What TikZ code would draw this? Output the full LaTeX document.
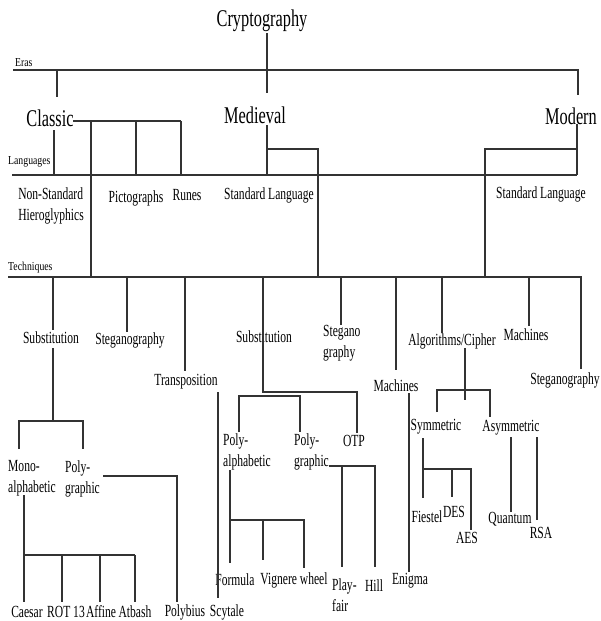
\documentclass[tikz,border=0pt]{standalone}
\usepackage{fontspec}
\setmainfont{Liberation Serif}
\newfontfamily\condfont[FakeStretch=0.68]{Liberation Serif}
\newfontfamily\tinyfam[FakeStretch=0.8]{Liberation Serif}
\newcommand\bigf{\condfont\fontsize{24}{28}\selectfont}
\newcommand\smallf{\condfont\fontsize{17}{21}\selectfont}
\newcommand\tinyf{\tinyfam\fontsize{12.2}{14}\selectfont}
\tikzset{
  big/.style={inner sep=0pt, font=\bigf},
  lbl/.style={inner sep=0pt, font=\smallf},
  lbll/.style={inner sep=0pt, font=\smallf, align=left, anchor=west},
  sect/.style={inner sep=0pt, font=\tinyf, anchor=west},
  ln/.style={line width=1.15pt, draw=black!80},
}
\begin{document}
\begin{tikzpicture}[x=1pt,y=-1pt]
\useasboundingbox (0,0) rectangle (601,621);
% --- top
\node[big] (crypto) at (262,21) {Cryptography};
\node[sect] (eras) at (15,63) {Eras};
\node[big] (classic) at (50,118) {Classic};
\node[big] (medieval) at (255,115) {Medieval};
\node[big] (modern) at (571,116) {Modern};
% --- languages
\node[sect] (languages) at (8,162) {Languages};
\node[lbl, align=left] (nonstd) at (51,206) {Non-Standard\\Hieroglyphics};
\node[lbl] (picto) at (136,198) {Pictographs};
\node[lbl] (runes) at (187,195) {Runes};
\node[lbl] (stdmed) at (269,195) {Standard Language};
\node[lbl] (stdmod) at (541,194) {Standard Language};
% --- techniques
\node[sect] (techniques) at (8,268) {Techniques};
\node[lbl] (subL) at (51,338) {Substitution};
\node[lbl] (stegL) at (130,340) {Steganography};
\node[lbl] (transp) at (186,382) {Transposition};
\node[lbl] (subM) at (264,337) {Substitution};
\node[lbll] (stegM) at (323,343) {Stegano\\graphy};
\node[lbl] (machM) at (396,386) {Machines};
\node[lbl] (algo) at (452,341) {Algorithms/Cipher};
\node[lbl] (machR) at (526,335) {Machines};
\node[lbl] (stegR) at (565,380) {Steganography};
% --- lower levels
\node[lbll] (mono) at (8,478) {Mono-\\alphabetic};
\node[lbll] (polyL) at (65,479) {Poly-\\graphic};
\node[lbll] (polyalpha) at (223,452) {Poly-\\alphabetic};
\node[lbll] (polygraph) at (294,452) {Poly-\\graphic};
\node[lbl] (otp) at (354,441) {OTP};
\node[lbl] (sym) at (436,427) {Symmetric};
\node[lbl] (asym) at (511,428) {Asymmetric};
\node[lbl] (formula) at (235,580) {Formula};
\node[lbl] (vignere) at (294,580) {Vignere wheel};
\node[lbll] (playfair) at (332,595) {Play-\\fair};
\node[lbl] (hill) at (374,586) {Hill};
\node[lbl] (enigma) at (410,581) {Enigma};
\node[lbl] (fiestel) at (427,517) {Fiestel};
\node[lbl] (des) at (454,512) {DES};
\node[lbl] (aes) at (467,538) {AES};
\node[lbl] (quantum) at (510,519) {Quantum};
\node[lbl] (rsa) at (541,533) {RSA};
\node[lbl] (caesar) at (27,612) {Caesar};
\node[lbl] (rot) at (66,612) {ROT 13};
\node[lbl] (affine) at (101,612) {Affine};
\node[lbl] (atbash) at (135,612) {Atbash};
\node[lbl] (polybius) at (185,612) {Polybius};
\node[lbl] (scytale) at (227,612) {Scytale};
% ================= connectors
% eras
\draw[ln] (267,33) -- (267,93);
\draw[ln] (13,70) -- (578,70) -- (578,95);
\draw[ln] (57,70) -- (57,97);
% classic
\draw[ln] (73,121) -- (181,121);
\draw[ln] (91,121) -- (91,277);
\draw[ln] (136,121) -- (136,175);
\draw[ln] (181,121) -- (181,175);
\draw[ln] (54,130) -- (54,175);
% languages line
\draw[ln] (12,175) -- (577,175);
% medieval
\draw[ln] (267,125) -- (267,175);
\draw[ln] (267,149) -- (318,149) -- (318,277);
% modern
\draw[ln] (577,124) -- (577,175);
\draw[ln] (577,149) -- (485,149) -- (485,277);
% techniques line
\draw[ln] (8,277) -- (582,277);
% left substitution
\draw[ln] (53,277) -- (53,330);
\draw[ln] (53,348) -- (53,421);
\draw[ln] (19,449) -- (19,421) -- (83,421) -- (83,449);
\draw[ln] (127,277) -- (127,332);
\draw[ln] (185,277) -- (185,371);
\draw[ln] (218,392) -- (218,598);
% middle substitution
\draw[ln] (263,277) -- (263,392) -- (357,392) -- (357,433);
\draw[ln] (239,432) -- (239,396) -- (300,396) -- (300,432);
\draw[ln] (341,277) -- (341,325);
\draw[ln] (396,277) -- (396,370);
\draw[ln] (409,393) -- (409,572);
% algorithms
\draw[ln] (442,277) -- (442,333);
\draw[ln] (465,348) -- (465,400);
\draw[ln] (437,412) -- (437,390) -- (490,390) -- (490,417);
\draw[ln] (529,277) -- (529,326);
\draw[ln] (581,277) -- (581,369);
% mono-alphabetic
\draw[ln] (24,495) -- (24,602);
\draw[ln] (24,555) -- (135,555);
\draw[ln] (62,555) -- (62,602);
\draw[ln] (100,555) -- (100,602);
\draw[ln] (135,555) -- (135,602);
% poly-graphic (left)
\draw[ln] (103,476) -- (177,476) -- (177,602);
% poly-alphabetic (middle)
\draw[ln] (230,470) -- (230,563);
\draw[ln] (230,520) -- (304,520) -- (304,568);
\draw[ln] (263,520) -- (263,560);
% poly-graphic (middle)
\draw[ln] (329,466) -- (375,466) -- (375,567);
\draw[ln] (342,466) -- (342,567);
% symmetric
\draw[ln] (423,438) -- (423,498);
\draw[ln] (423,469) -- (471,469) -- (471,530);
\draw[ln] (452,469) -- (452,497);
% asymmetric
\draw[ln] (511,437) -- (511,512);
\draw[ln] (537,437) -- (537,520);
\end{tikzpicture}
\end{document}
